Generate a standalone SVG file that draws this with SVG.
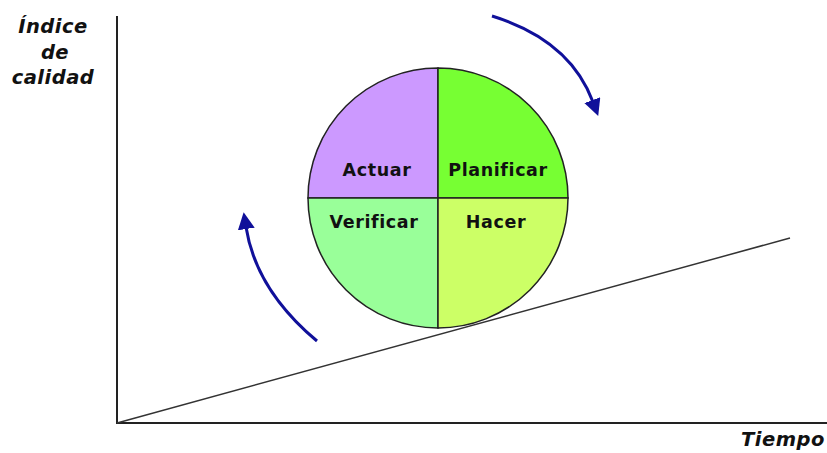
<svg xmlns="http://www.w3.org/2000/svg" width="827" height="453" viewBox="0 0 827 453">
<style>
.axis{stroke:#222;stroke-width:2;fill:none}
.slope{stroke:#333;stroke-width:1.5;fill:none}
.q{stroke:#222;stroke-width:1.5}
.lbl{font-family:"DejaVu Sans",Verdana,sans-serif;font-weight:bold;font-size:17.5px;letter-spacing:0.6px;fill:#111;text-anchor:middle}
.ax{font-family:"DejaVu Sans",Verdana,sans-serif;font-weight:bold;font-style:italic;font-size:19.5px;letter-spacing:0.5px;fill:#111;text-anchor:middle}
.arr{stroke:#10109a;stroke-width:3;fill:none}
</style>
<defs>
<marker id="ah" markerUnits="userSpaceOnUse" markerWidth="20" markerHeight="20" refX="2" refY="8.5" orient="auto">
<path d="M0,0 L17,8.5 L0,17 Z" fill="#10109a"/>
</marker>
</defs>
<rect width="827" height="453" fill="#fff"/>
<g id="axes">
<line class="axis" x1="117" y1="16" x2="117" y2="424"/>
<line class="axis" x1="116" y1="423" x2="827" y2="423"/>
<line class="slope" x1="117" y1="423" x2="790" y2="238"/>
</g>
<g id="cycle">
<path class="q" d="M438,198 L438,68 A130,130 0 0 0 308,198 Z" fill="#cc99ff"/>
<path class="q" d="M438,198 L568,198 A130,130 0 0 0 438,68 Z" fill="#77ff33"/>
<path class="q" d="M438,198 L308,198 A130,130 0 0 0 438,328 Z" fill="#99ff99"/>
<path class="q" d="M438,198 L438,328 A130,130 0 0 0 568,198 Z" fill="#ccff66"/>
<text class="lbl" x="377" y="176">Actuar</text>
<text class="lbl" x="498" y="176">Planificar</text>
<text class="lbl" x="374" y="228">Verificar</text>
<text class="lbl" x="496" y="228">Hacer</text>
</g>
<g id="connectors">
<path class="arr" d="M492,16 Q570,40 593,102" marker-end="url(#ah)"/>
<path class="arr" d="M317,341 Q256,290 246,227" marker-end="url(#ah)"/>
</g>
<g id="labels">
<text class="ax" x="53" y="33">Índice</text>
<text class="ax" x="55" y="59">de</text>
<text class="ax" x="53" y="84">calidad</text>
<text class="ax" x="783" y="446">Tiempo</text>
</g>
</svg>
